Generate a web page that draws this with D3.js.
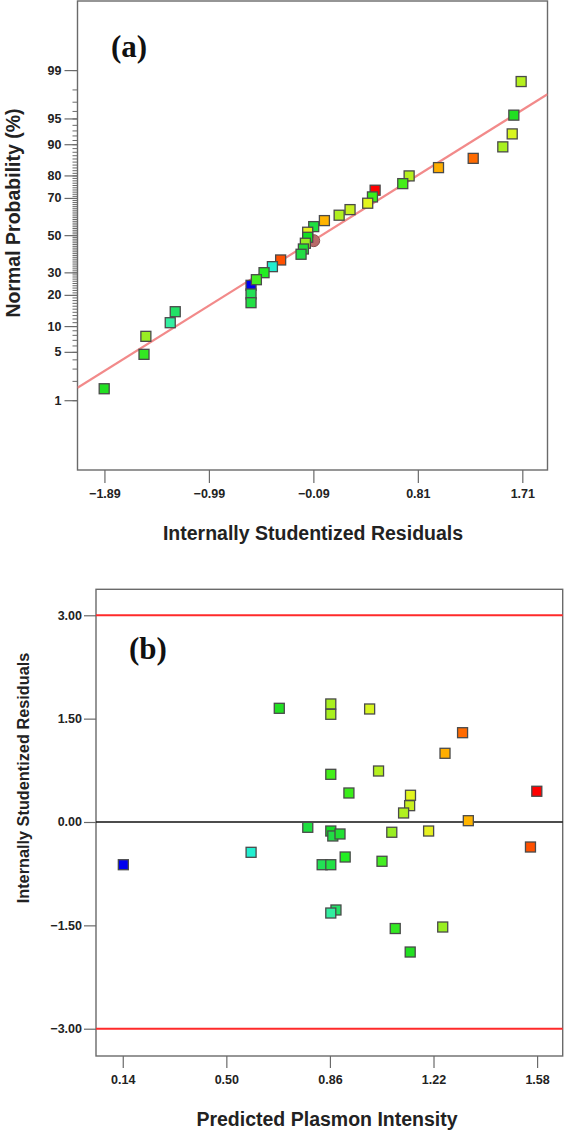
<!DOCTYPE html>
<html><head><meta charset="utf-8">
<script src="https://cdn.jsdelivr.net/npm/d3@7"></script>
<style>
html,body{margin:0;padding:0;background:#fff;}
svg{display:block;}
</style></head>
<body>
<svg id="chart" width="565" height="1131"></svg>
<script>
// ---------- Panel (a) data: normal probability plot ----------
const resA = [1.700,1.637,1.623,1.542,1.287,0.988,0.735,0.680,0.442,0.419,0.378,0.226,0.132,0.005,-0.087,-0.139,-0.139,-0.159,-0.176,-0.196,-0.372,-0.443,-0.515,-0.627,-0.581,-0.627,-0.627,-1.280,-1.323,-1.533,-1.549,-1.892];
const probA = [98.48,95.46,92.32,89.33,86.04,82.94,79.81,76.61,73.67,70.50,67.36,64.05,61.06,58.12,54.78,51.64,48.80,45.46,42.27,39.38,36.32,32.85,29.84,23.98,26.50,20.35,17.06,14.03,10.86,7.69,4.65,1.52];
const colorA = ['#b5f01e','#22e022','#d8f520','#a8f020','#ff6a00','#ffae00','#b5f01e','#44ee1a','#ff0000','#3aee1a','#e2f51e','#c8f020','#b0f020','#ffb400','#1ee040','#e6f020','#11e022','#99ee22','#22e033','#22dd44','#ff5000','#22eed0','#22ee22','#0000ee','#44ee22','#22e055','#22e044','#22e066','#33eea0','#99ee22','#33e822','#22e022'];
const circleRes = [-0.087];
const circleProb = [46.9];
const fitRes = [-2.122, 1.927];
const fitProb = [1.57, 97.65];
const xTicksA = [-1.89,-0.99,-0.09,0.81,1.71];
const yMajorA = [1,5,10,20,30,50,70,80,90,95,99];
const yMinorA = d3.range(1,100);

// ---------- Panel (b) data: residuals vs predicted ----------
const predB = [0.684,0.863,0.863,0.998,1.321,1.260,0.863,1.029,0.926,1.140,1.137,1.116,1.579,1.341,0.783,0.863,0.870,0.895,1.075,1.203,1.557,0.586,0.142,0.833,0.863,0.913,1.041,0.881,0.863,1.087,1.252,1.139];
const resB = [1.650,1.713,1.563,1.640,1.296,0.997,0.692,0.740,0.421,0.388,0.237,0.131,0.446,0.019,-0.077,-0.131,-0.203,-0.174,-0.149,-0.131,-0.363,-0.440,-0.620,-0.620,-0.620,-0.508,-0.570,-1.277,-1.321,-1.546,-1.524,-1.887];
const colorB = ['#22e022','#a8f020','#a8f020','#d8f520','#ff6a00','#ffae00','#44ee1a','#b5f01e','#3aee1a','#e2f51e','#c8f020','#b0f020','#ff0000','#ffb400','#1ee040','#11e022','#22dd44','#22e033','#99ee22','#e6f020','#ff5000','#22eed0','#0000ee','#22e055','#22e044','#22ee22','#44ee22','#22e066','#33eea0','#33e822','#99ee22','#22e022'];
const xTicksB = [0.14,0.50,0.86,1.22,1.58];
const yTicksB = [-3.00,-1.50,0.00,1.50,3.00];
const limitsB = [3.00,-3.00];

// inverse standard normal CDF (Acklam) for the probability axis
function qnorm(p){
  const a=[-3.969683028665376e+01,2.209460984245205e+02,-2.759285104469687e+02,1.383577518672690e+02,-3.066479806614716e+01,2.506628277459239e+00];
  const b=[-5.447609879822406e+01,1.615858368580409e+02,-1.556989798598866e+02,6.680131188771972e+01,-1.328068155288572e+01];
  const c=[-7.784894002430293e-03,-3.223964580411365e-01,-2.400758277161838e+00,-2.549671010228718e+00,4.374664141464968e+00,2.938163982698783e+00];
  const d=[7.784695709041462e-03,3.224671290700398e-01,2.445134137142996e+00,3.754408661907416e+00];
  const pl=0.02425;
  if(p<pl){const q=Math.sqrt(-2*Math.log(p));return (((((c[0]*q+c[1])*q+c[2])*q+c[3])*q+c[4])*q+c[5])/((((d[0]*q+d[1])*q+d[2])*q+d[3])*q+1);}
  if(p>1-pl){const q=Math.sqrt(-2*Math.log(1-p));return -(((((c[0]*q+c[1])*q+c[2])*q+c[3])*q+c[4])*q+c[5])/((((d[0]*q+d[1])*q+d[2])*q+d[3])*q+1);}
  const q=p-0.5,r=q*q;
  return (((((a[0]*r+a[1])*r+a[2])*r+a[3])*r+a[4])*r+a[5])*q/(((((b[0]*r+b[1])*r+b[2])*r+b[3])*r+b[4])*r+1);
}

const svg = d3.select("#chart");
const frameColor = "#6a6a6a";
const tickText = "#222";
const SANS = "'Liberation Sans', Arial, sans-serif";
const SERIF = "'Liberation Serif', 'Times New Roman', serif";
const SQ = 10;

function styleAxis(g, fs){
  g.select(".domain").remove();
  g.selectAll(".tick line").attr("stroke", frameColor).attr("stroke-width", 1.2);
  g.selectAll(".tick text").attr("fill", tickText).style("font-size", fs+"px").style("font-weight", "bold")
    .style("font-family", SANS);
}
function title(g, txt, fs){
  return g.append("text").text(txt).style("font-family", SANS).style("font-weight","bold")
    .style("font-size", fs+"px").attr("fill","#222").attr("text-anchor","middle");
}

// ================= Panel (a) =================
{
  const L=77.5, R=547.5, T=1, B=470;
  const x = d3.scaleLinear().domain([-2.122, 1.927]).range([L, R]);
  const z = d3.scaleLinear().domain([-3.31, 3.30]).range([B, T]);
  const y = p => z(qnorm(p/100));
  const g = svg.append("g");

  const gMin = g.append("g").attr("transform", `translate(${L},0)`)
    .call(d3.axisLeft(z).tickValues(yMinorA.map(p=>qnorm(p/100))).tickSize(5).tickFormat(""));
  styleAxis(gMin, 12);
  gMin.selectAll(".tick line").attr("stroke-width", 1);
  const gMaj = g.append("g").attr("transform", `translate(${L},0)`)
    .call(d3.axisLeft(z).tickValues(yMajorA.map(p=>qnorm(p/100))).tickSize(13).tickPadding(3)
      .tickFormat((v,i)=>String(yMajorA[i])));
  styleAxis(gMaj, 12.5);

  const gx = g.append("g").attr("transform", `translate(0,${B})`)
    .call(d3.axisBottom(x).tickValues(xTicksA).tickSize(13).tickPadding(6).tickFormat(d3.format(".2f")));
  styleAxis(gx, 12.5);

  g.append("rect").attr("x", L).attr("y", T).attr("width", R-L).attr("height", B-T)
    .attr("fill","none").attr("stroke", frameColor).attr("stroke-width", 1.4);

  svg.append("clipPath").attr("id","clipA").append("rect").attr("x",L).attr("y",T).attr("width",R-L).attr("height",B-T);
  g.append("line").attr("clip-path","url(#clipA)")
    .attr("x1", x(fitRes[0])).attr("y1", y(fitProb[0]))
    .attr("x2", x(fitRes[1])).attr("y2", y(fitProb[1]))
    .attr("stroke", "#f28a8a").attr("stroke-width", 2.2);

  g.selectAll("circle.pt").data(circleRes).join("circle")
    .attr("cx", d=>x(d)).attr("cy", (d,i)=>y(circleProb[i])).attr("r", 6)
    .attr("fill", "#b86a6a").attr("stroke", "#8a5050").attr("stroke-width", 1);

  g.selectAll("rect.pt").data(resA).join("rect").attr("class","pt")
    .attr("x", d=>x(d)-SQ/2).attr("y", (d,i)=>y(probA[i])-SQ/2)
    .attr("width", SQ).attr("height", SQ)
    .attr("fill", (d,i)=>colorA[i]).attr("stroke", "#4a4a4a").attr("stroke-width", 1.3);

  g.append("text").attr("x", 111).attr("y", 57).text("(a)")
    .style("font-family", SERIF).style("font-weight", "bold").style("font-size", "31px").attr("fill", "#111");
  title(g, "Internally Studentized Residuals", 19.5).attr("x", 313).attr("y", 540);
  title(g, "Normal  Probability (%)", 19.5).attr("transform", "translate(20,213) rotate(-90)");
}

// ================= Panel (b) =================
{
  const L=96, R=562.7, T=589.3, B=1056;
  const x = d3.scaleLinear().domain([0.047, 1.669]).range([L, R]);
  const y = d3.scaleLinear().domain([-3.396, 3.377]).range([B, T]);
  const g = svg.append("g");

  const gy = g.append("g").attr("transform", `translate(${L},0)`)
    .call(d3.axisLeft(y).tickValues(yTicksB).tickSize(12).tickPadding(2).tickFormat(d3.format(".2f")));
  styleAxis(gy, 12.5);
  const gx = g.append("g").attr("transform", `translate(0,${B})`)
    .call(d3.axisBottom(x).tickValues(xTicksB).tickSize(12).tickPadding(7).tickFormat(d3.format(".2f")));
  styleAxis(gx, 12.5);

  g.append("rect").attr("x", L).attr("y", T).attr("width", R-L).attr("height", B-T)
    .attr("fill","none").attr("stroke", frameColor).attr("stroke-width", 1.4);

  g.selectAll("line.lim").data(limitsB).join("line").attr("class","lim")
    .attr("x1", L).attr("x2", R).attr("y1", d=>y(d)).attr("y2", d=>y(d))
    .attr("stroke", "#ff2a2a").attr("stroke-width", 2);
  g.append("line").attr("x1", L).attr("x2", R).attr("y1", y(0)).attr("y2", y(0))
    .attr("stroke", "#111").attr("stroke-width", 1.6);

  g.selectAll("rect.pt").data(predB).join("rect").attr("class","pt")
    .attr("x", d=>x(d)-SQ/2).attr("y", (d,i)=>y(resB[i])-SQ/2)
    .attr("width", SQ).attr("height", SQ)
    .attr("fill", (d,i)=>colorB[i]).attr("stroke", "#4a4a4a").attr("stroke-width", 1.3);

  g.append("text").attr("x", 129).attr("y", 659).text("(b)")
    .style("font-family", SERIF).style("font-weight", "bold").style("font-size", "31px").attr("fill", "#111");
  title(g, "Predicted Plasmon Intensity", 19.5).attr("x", 327).attr("y", 1126);
  title(g, "Internally Studentized Residuals", 16.3).attr("transform", "translate(29,778) rotate(-90)");
}
</script>
</body></html>
